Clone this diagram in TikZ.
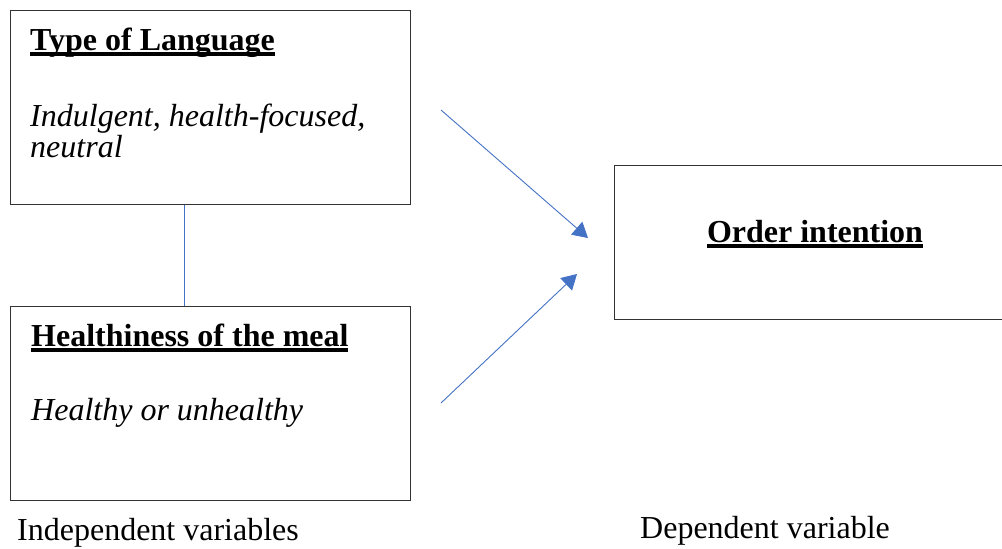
\documentclass[tikz,border=0pt]{standalone}
\usepackage{fontspec}
\setmainfont{Liberation Serif}
\usetikzlibrary{arrows.meta}
\definecolor{linkblue}{RGB}{68,114,196}
\newcommand{\thickul}[1]{\sbox0{#1}\rlap{\rule[-5.5pt]{\wd0}{3.2pt}}\usebox0}

\begin{document}
\begin{tikzpicture}[x=1pt, y=-1pt,
    box/.style={draw=black!80, line width=1pt, inner sep=0pt, minimum width=400pt},
    link/.style={draw=linkblue, line width=0.9pt},
    tip/.style={-{Triangle[length=15pt, width=17pt]}},
    txt/.style={anchor=base west, inner sep=0pt, font=\fontsize{32}{31}\selectfont}]
        \path[use as bounding box, clip] (0,0) rectangle (1002,549);

        \node[box, minimum height=194pt] (lang) at (210,107) {};
        \node[box, minimum height=194pt] (health) at (210,403) {};
        \node[box, minimum height=154pt] (order) at (814,242) {};

        \node[txt] (langtitle) at (30,50) {\textbf{\thickul{Type of Language}}};
        \node[txt] (langlevelsa) at (30,126) {\textit{Indulgent, health-focused,}};
        \node[txt] (langlevelsb) at (30,157) {\textit{neutral}};

        \node[txt] (healthtitle) at (31,346) {\textbf{\thickul{Healthiness of the meal}}};
        \node[txt] (healthlevels) at (31,420) {\textit{Healthy or unhealthy}};

        \node[txt, anchor=base] (ordertitle) at (815,242) {\textbf{\thickul{Order intention}}};

        \node[txt] (indep) at (17,540) {Independent variables};
        \node[txt] (dep) at (640,538) {Dependent variable};

        \coordinate (joint) at (184,0);
        \coordinate (langout) at (441,110);
        \coordinate (healthout) at (441,403);
        \coordinate (orderina) at (588,238);
        \coordinate (orderinb) at (577,274);

        \draw[link] (lang.south -| joint) -- (health.north -| joint);
        \draw[link, tip] (langout) -- (orderina);
        \draw[link, tip] (healthout) -- (orderinb);
\end{tikzpicture}
\end{document}
